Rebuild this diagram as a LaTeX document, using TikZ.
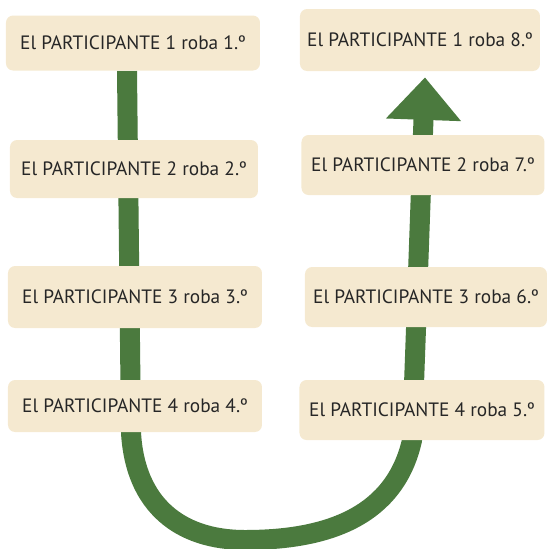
\documentclass[tikz,border=0pt]{standalone}
\usepackage{fontspec}
\setmainfont{PT Sans}
\usetikzlibrary{arrows.meta}
\usetikzlibrary{backgrounds}

\definecolor{paper}{HTML}{F5E9D0}
\definecolor{leaf}{HTML}{4B7A3E}

\begin{document}
\begin{tikzpicture}[x=0.02cm, y=-0.02cm]
    \tikzstyle{turn} = [fill=paper, rounded corners=4pt, inner sep=0pt, text=black!85, font=\fontsize{11}{13}\selectfont];
    \tikzstyle{track} = [draw=leaf, line width=0.4cm, -{Triangle[width=1.45cm, length=0.85cm]}];

    \useasboundingbox (0, 0) rectangle (547, 549);

    \node[turn, minimum width=254*0.02cm, minimum height=55*0.02cm] (left-1) at (133, 43)  {El PARTICIPANTE 1 roba 1.º};
    \node[turn, minimum width=248*0.02cm, minimum height=58*0.02cm] (left-2) at (134, 169) {El PARTICIPANTE 2 roba 2.º};
    \node[turn, minimum width=254*0.02cm, minimum height=62*0.02cm] (left-3) at (135, 297) {El PARTICIPANTE 3 roba 3.º};
    \node[turn, minimum width=254*0.02cm, minimum height=52*0.02cm] (left-4) at (135, 406) {El PARTICIPANTE 4 roba 4.º};

    \node[turn, minimum width=240*0.02cm, minimum height=62*0.02cm] (right-1) at (420, 40)  {El PARTICIPANTE 1 roba 8.º};
    \node[turn, minimum width=243*0.02cm, minimum height=60*0.02cm] (right-2) at (423, 165) {El PARTICIPANTE 2 roba 7.º};
    \node[turn, minimum width=242*0.02cm, minimum height=60*0.02cm] (right-3) at (426, 297) {El PARTICIPANTE 3 roba 6.º};
    \node[turn, minimum width=245*0.02cm, minimum height=60*0.02cm] (right-4) at (422, 410) {El PARTICIPANTE 4 roba 5.º};

    % the snake runs under the boxes
    \begin{scope}[on background layer]
        \draw [track] ([xshift=-0.12cm] left-1.south)
            -- ([xshift=-0.08cm] left-4.south)
            .. controls (135, 505) and (180, 540) .. (245, 540)
            .. controls (330, 540) and (395, 515) .. ([xshift=-0.2cm] right-4.south)
            -- ([xshift=0.1cm, yshift=-0.12cm] right-1.south);
    \end{scope}
\end{tikzpicture}
\end{document}
